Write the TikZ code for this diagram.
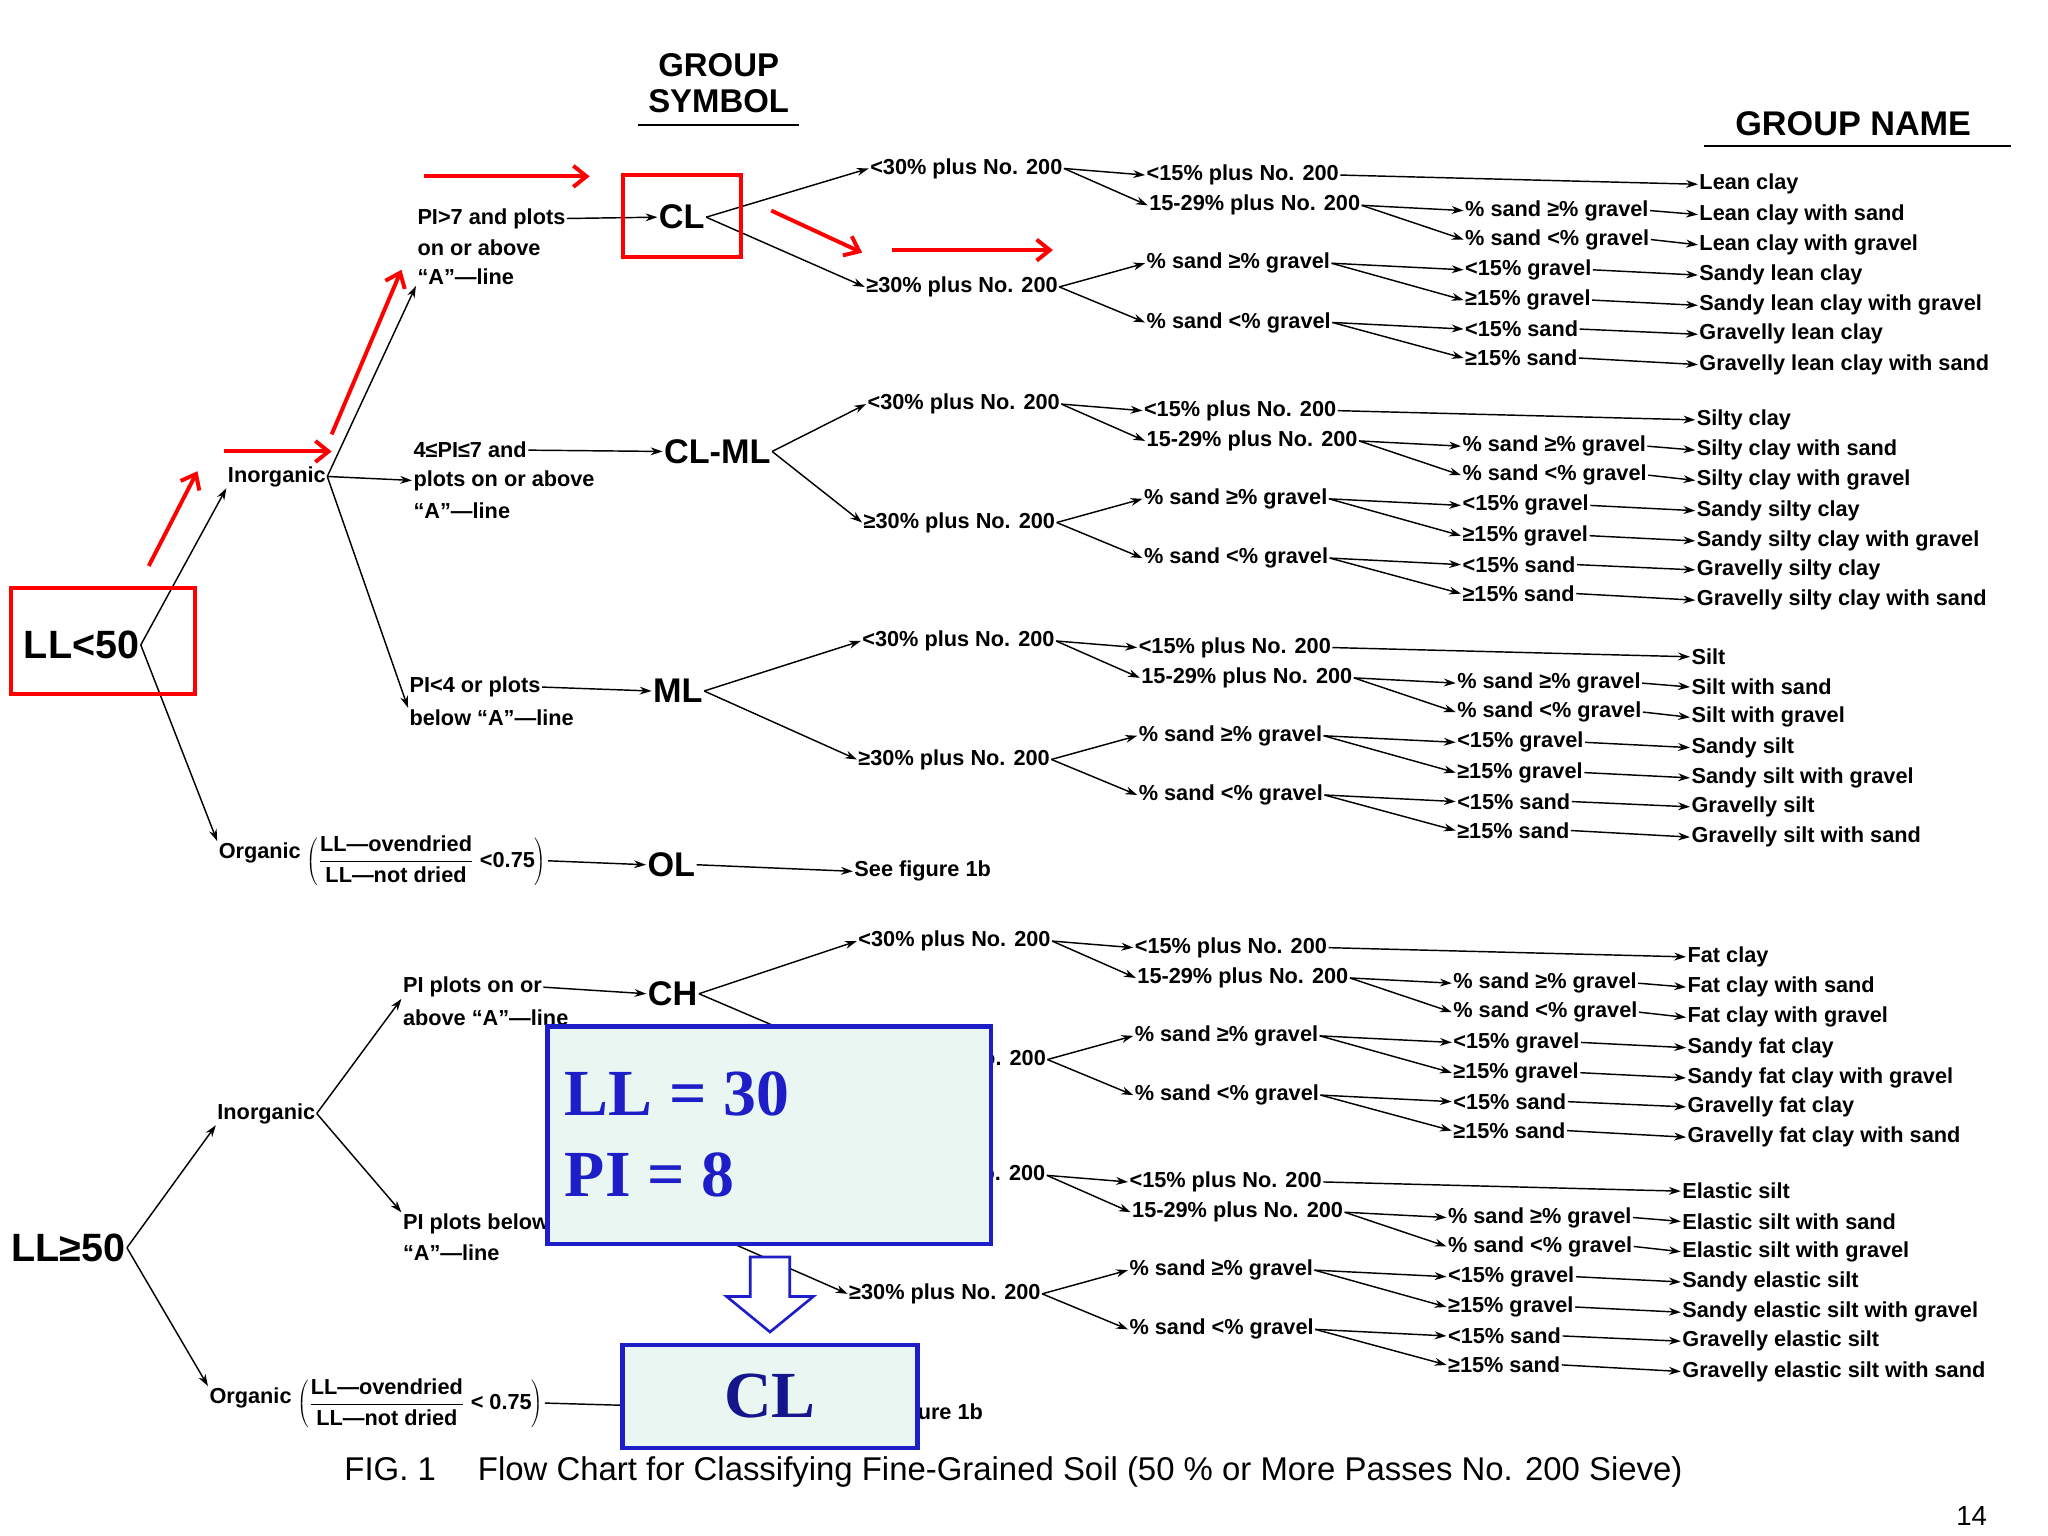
\documentclass[tikz,border=0pt]{standalone}
\usepackage{fontspec}
\setmainfont{Liberation Sans}
\newfontfamily\serifb{Liberation Serif}
\usetikzlibrary{arrows.meta}
\definecolor{ovblue}{HTML}{1E1EC8}
\definecolor{ovfill}{HTML}{EAF6F2}
\tikzset{
 every node/.style={font=\fontsize{16.5}{18}\selectfont\bfseries, inner sep=1pt},
 tx/.style={anchor=west},
 sym/.style={font=\fontsize{26}{28}\selectfont\bfseries},
 con/.style={-{Stealth[length=9pt,width=6pt]}, line width=1.1pt},
 redar/.style={red, line width=3pt, -{Straight Barb[length=10pt,width=16pt]}},
 redbox/.style={draw=red, line width=3pt},
}
% #1 prefix, #2 source node, #3..#9 names
\newcommand\fgblock[9]{%
 \node[tx] (#1lt) at (660,128) {<30\% plus No. 200};
 \node[tx] (#1ge) at (657,218) {≥30\% plus No. 200};
 \node[tx] (#1a) at (870,133) {<15\% plus No. 200};
 \node[tx] (#1b) at (872,156) {15-29\% plus No. 200};
 \node[tx] (#1sga) at (1112,160) {\% sand ≥\% gravel};
 \node[tx] (#1sla) at (1112,182) {\% sand <\% gravel};
 \node[tx] (#1sgb) at (870,200) {\% sand ≥\% gravel};
 \node[tx] (#1slb) at (870,245) {\% sand <\% gravel};
 \node[tx] (#1ga) at (1112,205) {<15\% gravel};
 \node[tx] (#1gb) at (1112,228) {≥15\% gravel};
 \node[tx] (#1sa) at (1112,250) {<15\% sand};
 \node[tx] (#1sb) at (1112,272) {≥15\% sand};
 \node[tx] (#1n1) at (1290,140) {#3};
 \node[tx] (#1n2) at (1290,163) {#4};
 \node[tx] (#1n3) at (1290,186) {#5};
 \node[tx] (#1n4) at (1290,209) {#6};
 \node[tx] (#1n5) at (1290,232) {#7};
 \node[tx] (#1n6) at (1290,254) {#8};
 \node[tx] (#1n7) at (1290,277) {#9};
 \draw[con] (#2.east) -- (#1lt.west);
 \draw[con] (#2.east) -- (#1ge.west);
 \draw[con] (#1lt.east) -- (#1a.west);
 \draw[con] (#1lt.east) -- (#1b.west);
 \draw[con] (#1a.east) -- (#1n1.west);
 \draw[con] (#1b.east) -- (#1sga.west);
 \draw[con] (#1b.east) -- (#1sla.west);
 \draw[con] (#1sga.east) -- (#1n2.west);
 \draw[con] (#1sla.east) -- (#1n3.west);
 \draw[con] (#1ge.east) -- (#1sgb.west);
 \draw[con] (#1ge.east) -- (#1slb.west);
 \draw[con] (#1sgb.east) -- (#1ga.west);
 \draw[con] (#1sgb.east) -- (#1gb.west);
 \draw[con] (#1slb.east) -- (#1sa.west);
 \draw[con] (#1slb.east) -- (#1sb.west);
 \draw[con] (#1ga.east) -- (#1n4.west);
 \draw[con] (#1gb.east) -- (#1n5.west);
 \draw[con] (#1sa.east) -- (#1n6.west);
 \draw[con] (#1sb.east) -- (#1n7.west);
}
\begin{document}
\begin{tikzpicture}[x=1pt,y=-1pt]
\useasboundingbox[fill=white] (0,0) rectangle (1556,1167);
% headers
\node[font=\fontsize{25}{27}\selectfont\bfseries, align=center] (hsym) at (546,63) {GROUP\\SYMBOL};
\draw[line width=1.5pt] (485,95) -- (607,95);
\node[font=\fontsize{26}{28}\selectfont\bfseries] (hname) at (1408,94) {GROUP NAME};
\draw[line width=1.5pt] (1295,111) -- (1528,111);
% ---------- LL<50
\node[font=\fontsize{30}{32}\selectfont\bfseries] (ll50) at (62,490) {LL<50};
\node[tx] (inorg1) at (172,362) {Inorganic};
\node[tx] (org1) at (165,648) {Organic};
\draw[con] (ll50.east) -- (inorg1.south west);
\draw[con] (ll50.east) -- (org1.north west);
\node[tx] (p7a) at (316,166) {PI>7 and plots};
\node[tx] (p7b) at (316,188) {on or above};
\node[tx] (p7c) at (316,210) {“A”—line};
\node[tx] (p4a) at (313,342) {4≤PI≤7 and};
\node[tx] (p4b) at (313,365) {plots on or above};
\node[tx] (p4c) at (313,388) {“A”—line};
\node[tx] (p0a) at (310,522) {PI<4 or plots};
\node[tx] (p0b) at (310,545) {below “A”—line};
\draw[con] (inorg1.east) -- (p7c.south west);
\draw[con] (inorg1.east) -- (p4b.west);
\draw[con] (inorg1.east) -- (p0b.north west);
\node[sym] (cl) at (518,165) {CL};
\node[sym] (clml) at (545,343) {CL-ML};
\node[sym] (ml) at (515,525) {ML};
\draw[con] (p7a.east) -- (cl.west);
\draw[con] (p4a.east) -- (clml.west);
\draw[con] (p0a.east) -- (ml.west);
\fgblock{A}{cl}{Lean clay}{Lean clay with sand}{Lean clay with gravel}{Sandy lean clay}{Sandy lean clay with gravel}{Gravelly lean clay}{Gravelly lean clay with sand}
\begin{scope}[shift={(-2,179)}]
\fgblock{B}{clml}{Silty clay}{Silty clay with sand}{Silty clay with gravel}{Sandy silty clay}{Sandy silty clay with gravel}{Gravelly silty clay}{Gravelly silty clay with sand}
\end{scope}
\begin{scope}[shift={(-6,359)}]
\fgblock{C}{ml}{Silt}{Silt with sand}{Silt with gravel}{Sandy silt}{Sandy silt with gravel}{Gravelly silt}{Gravelly silt with sand}
\end{scope}
\node[tx] (frac1) at (232,654) {$\left(\displaystyle\frac{\mbox{LL—ovendried}}{\mbox{LL—not dried}}\;\mbox{<0.75}\right)$};
\node[sym] (ol) at (510,657) {OL};
\node[tx] (see1) at (648,662) {See figure 1b};
\draw[con] (frac1.east) -- (ol.west);
\draw[con] (ol.east) -- (see1.west);
% ---------- LL>=50
\node[font=\fontsize{30}{32}\selectfont\bfseries] (ll50b) at (52,948) {LL≥50};
\node[tx] (inorg2) at (164,846) {Inorganic};
\node[tx] (org2) at (158,1062) {Organic};
\draw[con] (ll50b.east) -- (inorg2.south west);
\draw[con] (ll50b.east) -- (org2.north west);
\node[tx] (cha) at (305,750) {PI plots on or};
\node[tx] (chb) at (305,773) {above “A”—line};
\node[tx] (mha) at (305,930) {PI plots below};
\node[tx] (mhb) at (305,952) {“A”—line};
\draw[con] (inorg2.east) -- (cha.south west);
\draw[con] (inorg2.east) -- (mha.north west);
\node[sym] (ch) at (511,755) {CH};
\node[sym] (mh) at (513,935) {MH};
\draw[con] (cha.east) -- (ch.west);
\draw[con] (mha.east) -- (mh.west);
\begin{scope}[shift={(-9,587)}]
\fgblock{D}{ch}{Fat clay}{Fat clay with sand}{Fat clay with gravel}{Sandy fat clay}{Sandy fat clay with gravel}{Gravelly fat clay}{Gravelly fat clay with sand}
\end{scope}
\begin{scope}[shift={(-13,765)}]
\fgblock{E}{mh}{Elastic silt}{Elastic silt with sand}{Elastic silt with gravel}{Sandy elastic silt}{Sandy elastic silt with gravel}{Gravelly elastic silt}{Gravelly elastic silt with sand}
\end{scope}
\node[tx] (frac2) at (225,1066) {$\left(\displaystyle\frac{\mbox{LL—ovendried}}{\mbox{LL—not dried}}\;\mbox{< 0.75}\right)$};
\node[sym] (oh) at (505,1068) {OH};
\node[tx] (see2) at (642,1074) {See figure 1b};
\draw[con] (frac2.east) -- (oh.west);
\draw[con] (oh.east) -- (see2.west);
% caption
\node[font=\fontsize{25}{27}\selectfont] (cap) at (770,1118) {FIG. 1\quad\ Flow Chart for Classifying Fine-Grained Soil (50 \% or More Passes No. 200 Sieve)};
\node[font=\fontsize{21}{23}\selectfont] (pg) at (1498,1152) {14};
% red highlights
\draw[redbox] (8,447) rectangle (148,527);
\draw[redbox] (473,133) rectangle (563,195);
\draw[redar] (322,134) -- (448,134);
\draw[redar] (586,160) -- (655,192);
\draw[redar] (678,190) -- (800,190);
\draw[redar] (170,343) -- (252,343);
\draw[redar] (252,330) -- (305,205);
\draw[redar] (113,430) -- (150,358);
% overlay
\node[draw=ovblue, fill=ovfill, line width=3.5pt, minimum width=337pt, minimum height=165pt] (ovl) at (584.5,862.5) {};
\node[anchor=west, text=ovblue, font=\serifb\bfseries\fontsize{50}{62}\selectfont, align=left] (ovt) at (428,862) {LL = 30\\PI = 8};
\draw[ovblue, fill=white, line width=2pt] (570,955) -- (600,955) -- (600,985) -- (618,985) -- (585,1012) -- (552,985) -- (570,985) -- cycle;
\node[draw=ovblue, fill=ovfill, line width=3.5pt, minimum width=224pt, minimum height=78pt, text=ovblue!70!black, font=\serifb\bfseries\fontsize{50}{56}\selectfont] (clres) at (585,1061) {CL};
\end{tikzpicture}
\end{document}
